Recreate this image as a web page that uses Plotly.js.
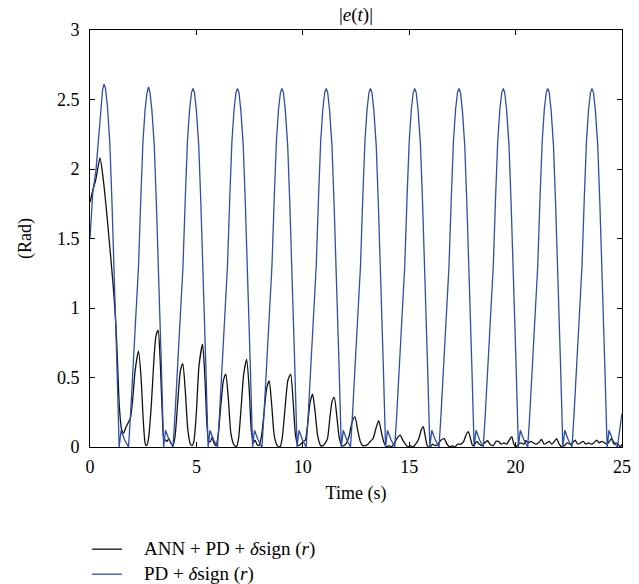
<!DOCTYPE html>
<html>
<head>
<meta charset="utf-8">
<script src="https://cdn.plot.ly/plotly-3.0.1.min.js"></script>
<style>html,body{margin:0;padding:0;background:#fff;}#chart{width:639px;height:584px;}</style>
</head>
<body>
<div id="chart"></div>
<script>
// ANN + PD + δsign(r) : |e(t)|
const annT = [0, 0.12, 0.28, 0.47, 0.62, 0.8, 1.0, 1.12, 1.22, 1.30, 1.38, 1.48, 1.58, 1.68, 1.78, 1.90, 2.0, 2.12, 2.28, 2.40, 2.50, 2.60, 2.66, 2.75, 2.88, 3.00, 3.10, 3.20, 3.30, 3.40, 3.48, 3.55, 3.62, 3.70, 3.80, 3.90, 4.0, 4.12, 4.25, 4.36, 4.48, 4.60, 4.72, 4.80, 4.88, 5.00, 5.12, 5.29, 5.40, 5.50, 5.58, 5.66, 5.74, 5.82, 5.92, 6.02, 6.15, 6.27, 6.38, 6.50, 6.62, 6.75, 6.88, 6.98, 7.10, 7.22, 7.36, 7.48, 7.58, 7.68, 7.76, 7.84, 7.94, 8.06, 8.18, 8.30, 8.42, 8.54, 8.66, 8.80, 8.93, 9.03, 9.15, 9.30, 9.43, 9.55, 9.66, 9.78, 9.90, 10.02, 10.12, 10.22, 10.34, 10.46, 10.58, 10.70, 10.84, 10.96, 11.06, 11.16, 11.28, 11.38, 11.48, 11.60, 11.72, 11.84, 11.94, 12.06, 12.18, 12.30, 12.45, 12.58, 12.70, 12.82, 12.94, 13.06, 13.17, 13.30, 13.45, 13.57, 13.70, 13.82, 13.94, 14.05, 14.15, 14.28, 14.42, 14.57, 14.70, 14.82, 14.95, 15.05, 15.18, 15.30, 15.45, 15.58, 15.66, 15.75, 15.85, 15.98, 16.10, 16.22, 16.35, 16.50, 16.64, 16.78, 16.90, 17.02, 17.14, 17.28, 17.42, 17.56, 17.68, 17.78, 17.88, 17.98, 18.08, 18.18, 18.30, 18.42, 18.55, 18.68, 18.80, 18.95, 19.08, 19.20, 19.32, 19.45, 19.58, 19.70, 19.82, 19.92, 20.02, 20.12, 20.25, 20.38, 20.48, 20.60, 20.72, 20.84, 20.95, 21.08, 21.22, 21.34, 21.46, 21.58, 21.70, 21.82, 21.93, 22.05, 22.18, 22.30, 22.42, 22.55, 22.68, 22.79, 22.92, 23.05, 23.18, 23.30, 23.42, 23.55, 23.68, 23.81, 23.92, 24.05, 24.18, 24.30, 24.40, 24.51, 24.62, 24.72, 24.82, 24.92, 25.0];
const annE = [1.76, 1.84, 1.93, 2.08, 1.93, 1.66, 1.32, 1.10, 0.87, 0.58, 0.29, 0.13, 0.10, 0.14, 0.17, 0.21, 0.33, 0.55, 0.69, 0.50, 0.20, 0.02, 0.01, 0.06, 0.30, 0.62, 0.80, 0.84, 0.62, 0.22, 0.05, 0.05, 0.04, 0.06, 0.03, 0.01, 0.08, 0.32, 0.55, 0.60, 0.40, 0.12, 0.02, 0.01, 0.04, 0.25, 0.58, 0.74, 0.50, 0.15, 0.04, 0.04, 0.07, 0.03, 0.01, 0.08, 0.30, 0.48, 0.525, 0.35, 0.10, 0.02, 0.0, 0.06, 0.28, 0.52, 0.63, 0.42, 0.12, 0.03, 0.05, 0.02, 0.01, 0.08, 0.25, 0.42, 0.475, 0.30, 0.08, 0.01, 0.0, 0.06, 0.25, 0.48, 0.525, 0.32, 0.08, 0.01, 0.02, 0.04, 0.05, 0.15, 0.32, 0.38, 0.25, 0.08, 0.01, 0.01, 0.03, 0.06, 0.22, 0.33, 0.357, 0.22, 0.06, 0.01, 0.01, 0.03, 0.08, 0.17, 0.218, 0.12, 0.04, 0.01, 0.01, 0.02, 0.04, 0.06, 0.14, 0.19, 0.10, 0.03, 0.0, 0.01, 0.0, 0.02, 0.06, 0.085, 0.05, 0.02, 0.0, 0.01, 0.0, 0.02, 0.06, 0.13, 0.146, 0.08, 0.01, 0.0, 0.02, 0.01, 0.02, 0.05, 0.06, 0.02, 0.0, 0.01, 0.0, 0.02, 0.02, 0.04, 0.09, 0.11, 0.06, 0.01, 0.02, 0.04, 0.02, 0.01, 0.03, 0.045, 0.02, 0.01, 0.04, 0.04, 0.02, 0.03, 0.02, 0.05, 0.075, 0.02, 0.0, 0.02, 0.03, 0.02, 0.045, 0.03, 0.04, 0.03, 0.02, 0.03, 0.055, 0.02, 0.03, 0.04, 0.02, 0.04, 0.06, 0.02, 0.0, 0.01, 0.03, 0.02, 0.03, 0.05, 0.02, 0.03, 0.04, 0.02, 0.03, 0.02, 0.03, 0.05, 0.03, 0.04, 0.03, 0.02, 0.04, 0.06, 0.02, 0.03, 0.02, 0.0, 0.02];

// PD + δsign(r) : |e(t)|
const pdT = [0, 0.13, 0.28, 0.41, 0.52, 0.59, 0.66, 0.73, 0.82, 0.93, 1.03, 1.13, 1.26, 1.37, 1.46, 1.63,
  1.81, 1.90, 2.05, 2.17, 2.28, 2.39, 2.49, 2.59, 2.68, 2.75, 2.82, 2.91, 3.02, 3.12, 3.22, 3.35, 3.46, 3.55, 3.72,
  3.90, 3.99, 4.14, 4.26, 4.37, 4.48, 4.58, 4.68, 4.77, 4.84, 4.91, 5.00, 5.11, 5.21, 5.31, 5.44, 5.55, 5.64, 5.81,
  5.99, 6.08, 6.23, 6.35, 6.46, 6.57, 6.67, 6.77, 6.86, 6.93, 7.00, 7.09, 7.20, 7.30, 7.40, 7.53, 7.64, 7.73, 7.90,
  8.08, 8.17, 8.32, 8.44, 8.55, 8.66, 8.76, 8.86, 8.95, 9.02, 9.09, 9.18, 9.29, 9.39, 9.49, 9.62, 9.73, 9.82, 9.99,
  10.16, 10.25, 10.40, 10.52, 10.63, 10.74, 10.84, 10.94, 11.03, 11.10, 11.17, 11.26, 11.37, 11.47, 11.57, 11.70, 11.81, 11.90, 12.07,
  12.24, 12.33, 12.48, 12.60, 12.71, 12.82, 12.92, 13.02, 13.11, 13.18, 13.25, 13.34, 13.45, 13.55, 13.65, 13.78, 13.89, 13.98, 14.15,
  14.32, 14.41, 14.56, 14.68, 14.79, 14.90, 15.00, 15.10, 15.19, 15.26, 15.33, 15.42, 15.53, 15.63, 15.73, 15.86, 15.97, 16.06, 16.23,
  16.40, 16.49, 16.64, 16.76, 16.87, 16.98, 17.08, 17.18, 17.27, 17.34, 17.41, 17.50, 17.61, 17.71, 17.81, 17.94, 18.05, 18.14, 18.31,
  18.48, 18.57, 18.72, 18.84, 18.95, 19.06, 19.16, 19.26, 19.35, 19.42, 19.49, 19.58, 19.69, 19.79, 19.89, 20.02, 20.13, 20.22, 20.39,
  20.57, 20.66, 20.81, 20.93, 21.04, 21.15, 21.25, 21.35, 21.44, 21.51, 21.58, 21.67, 21.78, 21.88, 21.98, 22.11, 22.22, 22.31, 22.48,
  22.65, 22.74, 22.89, 23.01, 23.12, 23.23, 23.33, 23.43, 23.52, 23.59, 23.66, 23.75, 23.86, 23.96, 24.06, 24.19, 24.30, 24.39, 24.56,
  24.78, 25.0];
const pdE = [1.50, 1.83, 1.99, 2.21, 2.45, 2.57, 2.61, 2.58, 2.45, 2.19, 1.77, 1.32, 0.62, 0, 0.12, 0.05,
  0, 0.22, 0.64, 0.98, 1.30, 1.80, 2.20, 2.43, 2.55, 2.59, 2.55, 2.42, 2.17, 1.75, 1.30, 0.60, 0, 0.12, 0.05,
  0, 0.22, 0.64, 0.98, 1.30, 1.80, 2.20, 2.43, 2.55, 2.58, 2.55, 2.42, 2.17, 1.75, 1.30, 0.60, 0, 0.12, 0.05,
  0, 0.22, 0.64, 0.98, 1.30, 1.80, 2.20, 2.43, 2.55, 2.58, 2.55, 2.42, 2.17, 1.75, 1.30, 0.60, 0, 0.12, 0.05,
  0, 0.22, 0.64, 0.98, 1.30, 1.80, 2.20, 2.43, 2.55, 2.58, 2.55, 2.42, 2.17, 1.75, 1.30, 0.60, 0, 0.12, 0.05,
  0, 0.22, 0.64, 0.98, 1.30, 1.80, 2.20, 2.43, 2.55, 2.58, 2.55, 2.42, 2.17, 1.75, 1.30, 0.60, 0, 0.12, 0.05,
  0, 0.22, 0.64, 0.98, 1.30, 1.80, 2.20, 2.43, 2.55, 2.58, 2.55, 2.42, 2.17, 1.75, 1.30, 0.60, 0, 0.12, 0.05,
  0, 0.22, 0.64, 0.98, 1.30, 1.80, 2.20, 2.43, 2.55, 2.58, 2.55, 2.42, 2.17, 1.75, 1.30, 0.60, 0, 0.12, 0.05,
  0, 0.22, 0.64, 0.98, 1.30, 1.80, 2.20, 2.43, 2.55, 2.58, 2.55, 2.42, 2.17, 1.75, 1.30, 0.60, 0, 0.12, 0.05,
  0, 0.22, 0.64, 0.98, 1.30, 1.80, 2.20, 2.43, 2.55, 2.58, 2.55, 2.42, 2.17, 1.75, 1.30, 0.60, 0, 0.12, 0.05,
  0, 0.22, 0.64, 0.98, 1.30, 1.80, 2.20, 2.43, 2.55, 2.58, 2.55, 2.42, 2.17, 1.75, 1.30, 0.60, 0, 0.12, 0.05,
  0, 0.22, 0.64, 0.98, 1.30, 1.80, 2.20, 2.43, 2.55, 2.58, 2.55, 2.42, 2.17, 1.75, 1.30, 0.60, 0, 0.12, 0.05,
  0, 0.24];

const xTicks = [0, 5, 10, 15, 20, 25];
const yTicks = [0, 0.5, 1, 1.5, 2, 2.5, 3];
const seriesNames = ['ANN + PD + <i>δ</i>sign (<i>r</i>)', 'PD + <i>δ</i>sign (<i>r</i>)'];
const seriesColors = ['#111111', '#2b4fa8'];

const serif = 'Liberation Serif, Times New Roman, serif';
const traces = [
  {x: annT, y: annE, name: seriesNames[0], mode: 'lines', line: {color: seriesColors[0], width: 1.3, shape: 'spline', smoothing: 0.6}},
  {x: pdT, y: pdE, name: seriesNames[1], mode: 'lines', line: {color: seriesColors[1], width: 1.3}}
];
const axisCommon = {
  showline: true, mirror: 'ticks', linecolor: '#000', linewidth: 1,
  ticks: 'inside', ticklen: 5, tickcolor: '#000', showgrid: false, zeroline: false, automargin: false,
  tickfont: {family: serif, size: 18, color: '#000'}
};
// legend drawn below the plot (paper coordinates)
const legendRowsY = [-0.245, -0.305];
const shapes = seriesNames.map((n, i) => ({type: 'line', xref: 'paper', yref: 'paper',
  x0: 0.004, x1: 0.06, y0: legendRowsY[i], y1: legendRowsY[i], line: {color: seriesColors[i], width: 1.3}}));
const annotations = seriesNames.map((n, i) => ({xref: 'paper', yref: 'paper', x: 0.098, y: legendRowsY[i],
  xanchor: 'left', yanchor: 'middle', text: n, showarrow: false, font: {family: serif, size: 19, color: '#000'}}));

const layout = {
  width: 639, height: 584,
  margin: {l: 90, r: 17, t: 30, b: 137},
  paper_bgcolor: '#fff', plot_bgcolor: '#fff',
  font: {family: serif, color: '#000'},
  title: {text: '|<i>e</i>(<i>t</i>)|', font: {family: serif, size: 19, color: '#000'}, x: 0.5, xref: 'paper', y: 0.975, yanchor: 'middle'},
  xaxis: Object.assign({}, axisCommon, {range: [0, 25], tickvals: xTicks, ticktext: xTicks.map(String), ticklabelstandoff: 3,
    title: {text: 'Time (s)', font: {family: serif, size: 18, color: '#000'}, standoff: 10}}),
  yaxis: Object.assign({}, axisCommon, {range: [0, 3], tickvals: yTicks, ticktext: yTicks.map(String), ticklabelstandoff: 6,
    title: {text: '(Rad)', font: {family: serif, size: 18, color: '#000'}, standoff: 20}}),
  showlegend: false,
  shapes: shapes,
  annotations: annotations
};
Plotly.newPlot('chart', traces, layout, {displayModeBar: false, staticPlot: true});
</script>
</body>
</html>
